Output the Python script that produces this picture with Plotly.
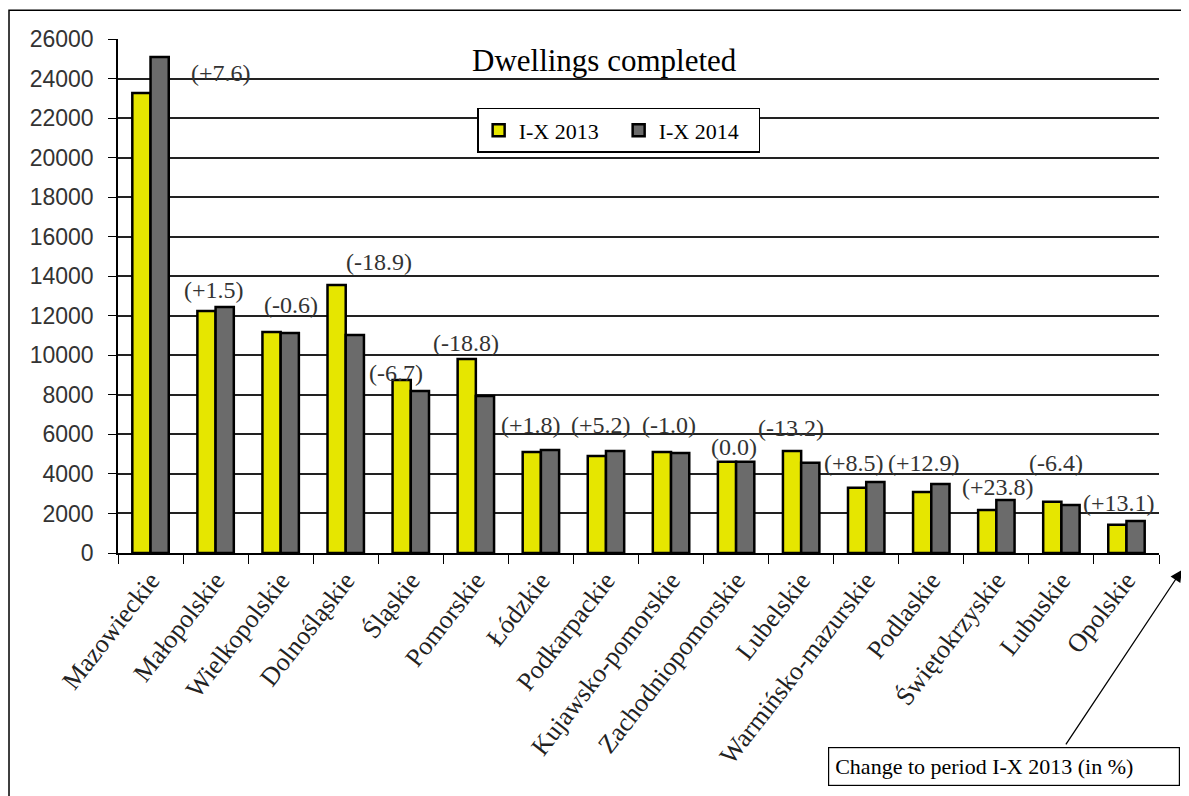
import plotly.graph_objects as go

categories = ["Mazowieckie", "Małopolskie", "Wielkopolskie", "Dolnośląskie", "Śląskie",
              "Pomorskie", "Łódzkie", "Podkarpackie", "Kujawsko-pomorskie",
              "Zachodniopomorskie", "Lubelskie", "Warmińsko-mazurskie", "Podlaskie",
              "Świętokrzyskie", "Lubuskie", "Opolskie"]
values_2013 = [23270, 12240, 11180, 13560, 8750, 9810, 5110, 4910, 5110, 4620, 5160,
               3300, 3090, 2180, 2590, 1430]
values_2014 = [25090, 12440, 11130, 11030, 8190, 7940, 5210, 5160, 5060, 4620, 4570,
               3590, 3490, 2680, 2430, 1620]
change_labels = ["(+7.6)", "(+1.5)", "(-0.6)", "(-18.9)", "(-6.7)", "(-18.8)", "(+1.8)",
                 "(+5.2)", "(-1.0)", "(0.0)", "(-13.2)", "(+8.5)", "(+12.9)", "(+23.8)",
                 "(-6.4)", "(+13.1)"]
series_names = ["I-X 2013", "I-X 2014"]
y_ticks = list(range(0, 26001, 2000))
y_tick_text = [str(v) for v in y_ticks]

# label placement (pixel shifts relative to category centre / top of the taller bar)
label_xshift = [70, -2, 10, 33, -15, -10, -10, -5, -2, -2, -10, -12, -7, 2, -5, -7]
label_yshift = [-16, 17, 27, 23, 7, 16, 25, 26, 27, 15, 23, 19, 21, 13, 39, 18]

SERIF = "Liberation Serif, Times New Roman, serif"
SANS = "Liberation Sans, Arial, sans-serif"

fig = go.Figure()
fig.add_trace(go.Bar(x=categories, y=values_2013, name=series_names[0],
                     marker=dict(color="#e6e600", line=dict(color="black", width=2.5))))
fig.add_trace(go.Bar(x=categories, y=values_2014, name=series_names[1],
                     marker=dict(color="#6b6b6b", line=dict(color="black", width=2.5))))

annotations = []
for i, cat in enumerate(categories):
    annotations.append(dict(
        x=cat, y=max(values_2013[i], values_2014[i]), xref="x", yref="y",
        text=change_labels[i], showarrow=False, xshift=label_xshift[i],
        yshift=label_yshift[i], font=dict(family=SERIF, size=24, color="#333333"),
        xanchor="center", yanchor="middle"))

# title
annotations.append(dict(x=0.467, y=0.959, xref="paper", yref="paper",
                        text="Dwellings completed", showarrow=False,
                        font=dict(family=SERIF, size=31, color="black"),
                        xanchor="center", yanchor="middle"))
# note box
annotations.append(dict(x=0.851, y=-0.415, xref="paper", yref="paper",
                        text="Change to period I-X 2013 (in %)", showarrow=False,
                        font=dict(family=SERIF, size=22, color="black"),
                        bordercolor="black", borderwidth=1.2, borderpad=6,
                        bgcolor="white", width=338,
                        xanchor="center", yanchor="middle", align="left"))
# arrow
annotations.append(dict(x=1.022, y=-0.033, xref="paper", yref="paper", text="",
                        showarrow=True, arrowhead=2, arrowsize=1.8, arrowwidth=1.3,
                        arrowcolor="black", ax=-117, ay=176, standoff=0))

fig.update_layout(
    width=1181, height=788,
    margin=dict(l=110, r=30, t=31, b=243),
    paper_bgcolor="white", plot_bgcolor="white",
    barmode="group", bargap=0.44, bargroupgap=0,
    showlegend=True,
    legend=dict(orientation="h", x=0.345, y=0.866, xanchor="left", yanchor="top",
                bgcolor="white", bordercolor="black", borderwidth=1.5,
                font=dict(family=SERIF, size=22, color="black"),
                entrywidth=95, entrywidthmode="pixels", traceorder="normal"),
    annotations=annotations,
    shapes=[dict(type="rect", xref="paper", yref="paper",
                 x0=-0.1047, x1=1.027, y0=-0.49, y1=1.056,
                 line=dict(color="black", width=1.5), fillcolor="rgba(0,0,0,0)",
                 layer="below")],
)

fig.update_xaxes(
    type="category", tickangle=-52, tickson="boundaries", ticks="outside",
    ticklen=9, tickcolor="black", tickwidth=1.2,
    showline=True, linecolor="black", linewidth=1.5,
    showgrid=False,
    tickfont=dict(family=SERIF, size=26, color="#222222"),
)
fig.update_yaxes(
    range=[0, 26000], tickvals=y_ticks, ticktext=y_tick_text, ticks="outside", ticklen=8,
    tickcolor="black", tickwidth=1.2, ticklabelstandoff=10,
    showline=True, linecolor="black", linewidth=1.5,
    showgrid=True, gridcolor="#222222", gridwidth=1.5,
    tickfont=dict(family=SANS, size=23, color="#333333"),
    zeroline=False,
)

fig.write_html("out.html")
